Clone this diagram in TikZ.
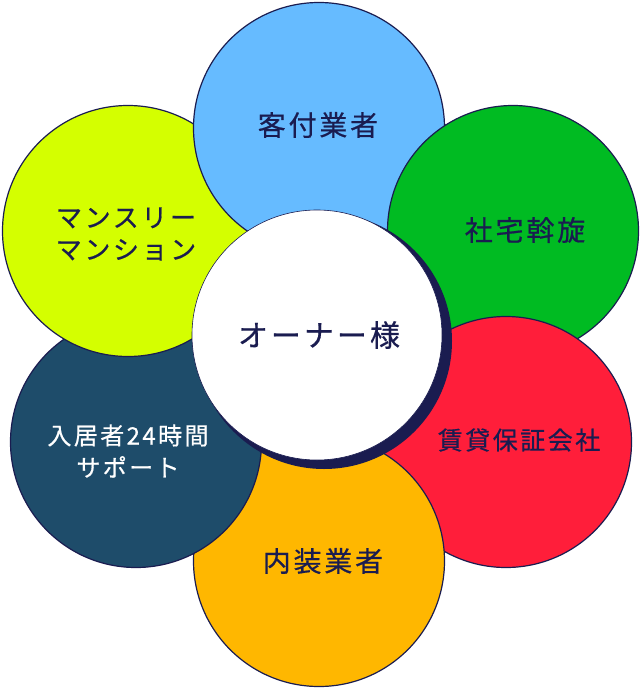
\documentclass[tikz,border=0pt]{standalone}
\usepackage{fontspec}
\newfontfamily\jp{Noto Sans CJK JP}[LetterSpace=10,FakeBold=0.6]
\definecolor{navy}{RGB}{26,28,80}
\definecolor{cBlue}{RGB}{102,187,255}
\definecolor{cYellow}{RGB}{212,255,0}
\definecolor{cGreen}{RGB}{0,187,34}
\definecolor{cRed}{RGB}{255,30,58}
\definecolor{cOrange}{RGB}{255,183,0}
\definecolor{cDark}{RGB}{30,76,106}
\begin{document}
\begin{tikzpicture}[x=1pt,y=-1pt,
  petal/.style={circle,draw=navy,line width=1.2pt,minimum size=251pt,inner sep=0pt,outer sep=0pt},
  lbl/.style={text=navy,align=center,inner sep=0pt},
]
\useasboundingbox (0,0) rectangle (640,688);
% petals, bottom to top (cyclic overlap fixed below)
\node[petal,fill=cGreen]  (g) at (513,231) {};
\node[petal,fill=cRed]    (r) at (506,442) {};
\node[petal,fill=cOrange] (o) at (319,561) {};
\node[petal,fill=cDark]   (d) at (136,442) {};
\node[petal,fill=cYellow] (y) at (128,231) {};
\node[petal,fill=cBlue]   (b) at (319,128) {};
% green lies over blue
\begin{scope}
  \clip (b.center) circle[radius=127pt];
  \fill[cGreen,draw=navy,line width=1.2pt] (g.center) circle[radius=125.5pt];
\end{scope}
% centre circle with shadow
\coordinate (cc) at (317,335);
\fill[navy] ([shift={(7,6)}]cc) circle[radius=128pt];
\node[circle,fill=white,draw=navy,line width=0.6pt,minimum size=250pt,inner sep=0pt] (w) at (cc) {};
% labels
\node[lbl,font=\jp\fontsize{30}{36}\selectfont] (tw) at (319,335) {オーナー様};
\node[lbl,font=\jp\fontsize{28}{34}\selectfont] (tb) at (318,125) {客付業者};
\node[lbl,font=\jp\fontsize{28}{34}\selectfont] (tg) at (525,230) {社宅斡旋};
\node[lbl,font=\jp\fontsize{25}{30}\selectfont] (tr) at (519,440) {賃貸保証会社};
\node[lbl,font=\jp\fontsize{28}{34}\selectfont] (to) at (323,561) {内装業者};
\node[lbl,text=white,font=\jp\fontsize{24}{32}\selectfont] (td) at (128,451) {入居者24時間\\サポート};
\node[lbl,font=\jp\fontsize{26}{32}\selectfont] (ty) at (126,234) {マンスリー\\マンション};
\end{tikzpicture}
\end{document}
